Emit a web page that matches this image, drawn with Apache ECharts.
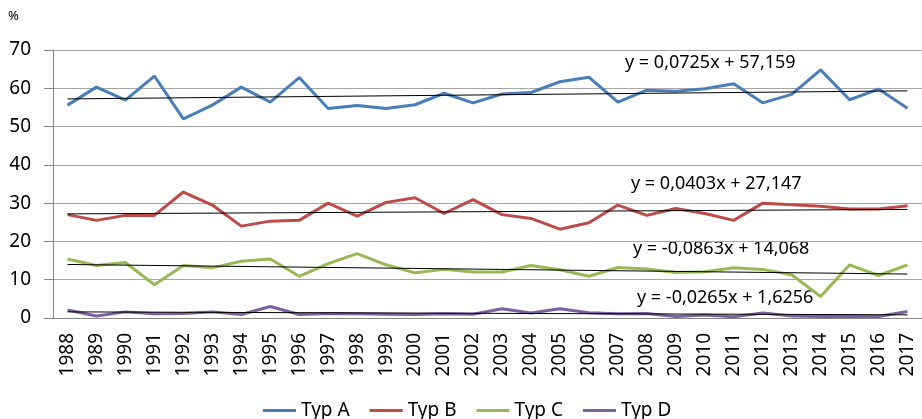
<!DOCTYPE html>
<html>
<head>
<meta charset="utf-8">
<script src="https://cdn.jsdelivr.net/npm/echarts@6/dist/echarts.min.js"></script>
<style>
  html, body { margin: 0; padding: 0; background: #fff; }
  #main { width: 922px; height: 419px; }
</style>
</head>
<body>
<div id="main"></div>
<script>
var years = ['1988','1989','1990','1991','1992','1993','1994','1995','1996','1997',
  '1998','1999','2000','2001','2002','2003','2004','2005','2006','2007',
  '2008','2009','2010','2011','2012','2013','2014','2015','2016','2017'];

var typA = [55.6, 60.3, 56.9, 63.2, 52.0, 55.6, 60.3, 56.4, 62.8, 54.7,
  55.5, 54.7, 55.7, 58.7, 56.2, 58.5, 58.9, 61.7, 62.9, 56.4,
  59.5, 59.2, 59.9, 61.2, 56.2, 58.4, 64.8, 57.0, 59.8, 54.8];
var typB = [27.0, 25.5, 26.8, 26.8, 32.9, 29.5, 24.0, 25.3, 25.5, 30.0,
  26.6, 30.2, 31.4, 27.3, 30.9, 27.0, 26.0, 23.2, 24.9, 29.5,
  26.8, 28.6, 27.3, 25.5, 30.0, 29.6, 29.2, 28.5, 28.5, 29.3];
var typC = [15.4, 13.7, 14.5, 8.7, 13.7, 13.1, 14.8, 15.4, 10.9, 14.2,
  16.8, 13.9, 11.8, 12.7, 12.0, 12.0, 13.7, 12.6, 10.9, 13.2,
  12.8, 11.9, 12.1, 13.1, 12.7, 11.3, 5.6, 13.9, 11.1, 13.9];
var typD = [2.1, 0.5, 1.6, 1.1, 1.2, 1.6, 0.9, 3.0, 0.9, 1.2,
  1.1, 1.0, 0.9, 1.1, 1.0, 2.4, 1.3, 2.4, 1.4, 1.1,
  1.2, 0.4, 0.8, 0.3, 1.3, 0.5, 0.4, 0.4, 0.4, 1.7];

// trend line values at 1988 and 2017 (from the printed equations)
var trendStart = [57.23, 27.19, 13.98, 1.60];
var trendEnd = [59.33, 28.36, 11.48, 0.83];
var trendText = ['y = 0,0725x + 57,159', 'y = 0,0403x + 27,147',
  'y = -0,0863x + 14,068', 'y = -0,0265x + 1,6256'];

var names = ['Typ A', 'Typ B', 'Typ C', 'Typ D'];
var colors = ['#4a7ebb', '#be4b48', '#98b954', '#7d60a0'];
var allData = [typA, typB, typC, typD];

var fontName = 'Noto Sans';

var series = allData.map(function (d, i) {
  return {
    name: names[i],
    type: 'line',
    data: d,
    symbol: 'none',
    z: 2,
    lineStyle: { width: 3, color: colors[i] },
    itemStyle: { color: colors[i] },
    markLine: {
      silent: true,
      symbol: 'none',
      label: { show: false },
      lineStyle: { color: '#000', width: 1, type: 'solid' },
      z: 3,
      data: [[{ coord: [0, trendStart[i]] }, { coord: [29, trendEnd[i]] }]]
    }
  };
});

var labelPos = [[625, 63], [631, 184], [633, 249], [637, 298]];

var chart = echarts.init(document.getElementById('main'));
var option = {
  animation: false,
  grid: { left: 53, top: 50, right: -5, bottom: 101 },
  legend: {
    left: 258,
    top: 396,
    itemWidth: 33,
    itemHeight: 3,
    itemGap: 20,
    icon: 'rect',
    textStyle: { fontFamily: fontName, fontSize: 19, color: '#000' },
    data: names
  },
  xAxis: {
    type: 'category',
    data: years,
    boundaryGap: true,
    axisLine: { lineStyle: { color: '#868686' } },
    axisTick: { length: 7, lineStyle: { color: '#868686' } },
    axisLabel: { rotate: 90, margin: 15, fontFamily: fontName, fontSize: 19, color: '#000' }
  },
  yAxis: {
    type: 'value',
    min: 0,
    max: 70,
    interval: 10,
    axisLine: { show: true, lineStyle: { color: '#868686' } },
    axisTick: { show: true, length: 9, lineStyle: { color: '#868686' } },
    splitLine: { lineStyle: { color: '#a6a6a6' } },
    axisLabel: { margin: 22, fontFamily: fontName, fontSize: 19, color: '#000' }
  },
  graphic: [{
    type: 'text', left: 8, top: 10,
    style: { text: '%', fontFamily: fontName, fontSize: 13, fill: '#000' }
  }].concat(trendText.map(function (t, i) {
    return {
      type: 'text', x: labelPos[i][0], y: labelPos[i][1],
      style: { text: t, fontFamily: fontName, fontSize: 18, fill: '#000', verticalAlign: 'middle' }
    };
  })),
  series: series
};
chart.setOption(option);
</script>
</body>
</html>
